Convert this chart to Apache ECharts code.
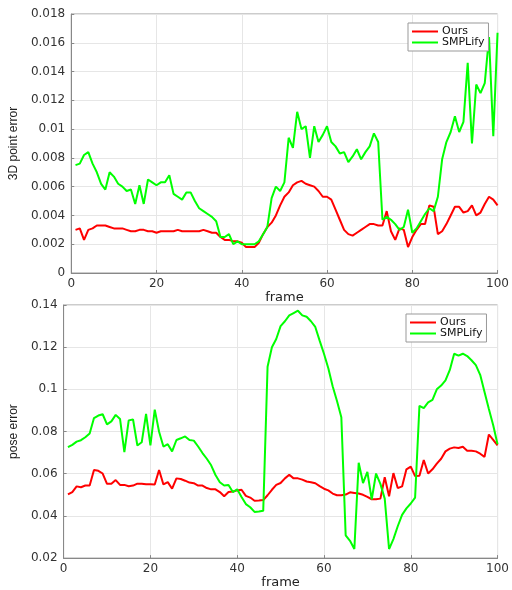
<!DOCTYPE html>
<html>
<head>
<meta charset="utf-8">
<script src="https://cdn.jsdelivr.net/npm/echarts@6/dist/echarts.min.js"></script>
<style>
  html, body { margin: 0; padding: 0; background: #fff; }
  #chart { width: 512px; height: 590px; }
</style>
</head>
<body>
<div id="chart"></div>
<script>
// frame index 1..100
const frames = []
for (let i = 1; i <= 100; i++) frames.push(i)

// 3D point error
const pointOurs = [
  0.0030, 0.0031, 0.0023, 0.0030, 0.0031, 0.0033, 0.0033, 0.0033, 0.0032, 0.0031,
  0.0031, 0.0031, 0.0030, 0.0029, 0.0029, 0.0030, 0.0030, 0.0029, 0.0029, 0.0028,
  0.0029, 0.0029, 0.0029, 0.0029, 0.0030, 0.0029, 0.0029, 0.0029, 0.0029, 0.0029,
  0.0030, 0.0029, 0.0028, 0.0028, 0.0025, 0.0023, 0.0023, 0.0022, 0.0022, 0.0021,
  0.0018, 0.0018, 0.0018, 0.0021, 0.0027, 0.0032, 0.0035, 0.0040, 0.0047, 0.0053,
  0.0056, 0.0061, 0.0063, 0.0064, 0.0062, 0.0061, 0.0060, 0.0057, 0.0053, 0.0053,
  0.0051, 0.0044, 0.0037, 0.0030, 0.0027, 0.0026, 0.0028, 0.0030, 0.0032, 0.0034,
  0.0034, 0.0033, 0.0033, 0.0043, 0.0029, 0.0023, 0.0031, 0.0030, 0.0018, 0.0025,
  0.0030, 0.0034, 0.0034, 0.0047, 0.0046, 0.0027, 0.0029, 0.0034, 0.0040, 0.0046,
  0.0046, 0.0042, 0.0043, 0.0047, 0.0040, 0.0042, 0.0048, 0.0053, 0.0051, 0.0047
]
const pointSmplify = [
  0.0075, 0.0076, 0.0082, 0.0084, 0.0076, 0.0070, 0.0062, 0.0058, 0.0070, 0.0067,
  0.0062, 0.0060, 0.0057, 0.0058, 0.0048, 0.0061, 0.0048, 0.0065, 0.0063, 0.0061,
  0.0063, 0.0063, 0.0068, 0.0055, 0.0053, 0.0051, 0.0056, 0.0056, 0.0050, 0.0045,
  0.0043, 0.0041, 0.0039, 0.0036, 0.0025, 0.0025, 0.0027, 0.0020, 0.0022, 0.0020,
  0.0020, 0.0020, 0.0020, 0.0022, 0.0027, 0.0032, 0.0052, 0.0060, 0.0057, 0.0063,
  0.0094, 0.0087, 0.0112, 0.0100, 0.0102, 0.0080, 0.0102, 0.0091, 0.0096, 0.0102,
  0.0091, 0.0088, 0.0083, 0.0084, 0.0077, 0.0081, 0.0086, 0.0079, 0.0084, 0.0088,
  0.0097, 0.0091, 0.0037, 0.0039, 0.0037, 0.0034, 0.0030, 0.0032, 0.0044, 0.0028,
  0.0031, 0.0036, 0.0041, 0.0045, 0.0043, 0.0053, 0.0079, 0.0091, 0.0098, 0.0109,
  0.0098, 0.0105, 0.0146, 0.0090, 0.0131, 0.0125, 0.0132, 0.0164, 0.0095, 0.0167
]

// pose error
const poseOurs = [
  0.0502, 0.0513, 0.0540, 0.0536, 0.0544, 0.0544, 0.0618, 0.0614, 0.0601, 0.0552,
  0.0552, 0.0570, 0.0547, 0.0547, 0.0541, 0.0544, 0.0553, 0.0553, 0.0550, 0.0550,
  0.0549, 0.0618, 0.0549, 0.0560, 0.0529, 0.0578, 0.0575, 0.0567, 0.0558, 0.0555,
  0.0544, 0.0544, 0.0532, 0.0526, 0.0526, 0.0513, 0.0493, 0.0513, 0.0516, 0.0521,
  0.0524, 0.0495, 0.0487, 0.0472, 0.0473, 0.0475, 0.0498, 0.0524, 0.0547, 0.0556,
  0.0578, 0.0595, 0.0578, 0.0578, 0.0572, 0.0563, 0.0560, 0.0555, 0.0541, 0.0529,
  0.0521, 0.0506, 0.0498, 0.0498, 0.0501, 0.0512, 0.0509, 0.0506, 0.0500, 0.0490,
  0.0479, 0.0479, 0.0482, 0.0583, 0.0493, 0.0603, 0.0532, 0.0540, 0.0621, 0.0634,
  0.0589, 0.0590, 0.0665, 0.0601, 0.0621, 0.0648, 0.0671, 0.0706, 0.0719, 0.0725,
  0.0722, 0.0728, 0.0709, 0.0709, 0.0706, 0.0695, 0.0680, 0.0786, 0.0760, 0.0734
]
const poseSmplify = [
  0.0726, 0.0737, 0.0752, 0.0759, 0.0773, 0.0791, 0.0864, 0.0876, 0.0882, 0.0834,
  0.0848, 0.0879, 0.0860, 0.0702, 0.0853, 0.0857, 0.0734, 0.0749, 0.0884, 0.0734,
  0.0904, 0.0799, 0.0729, 0.0740, 0.0706, 0.0760, 0.0768, 0.0777, 0.0760, 0.0757,
  0.0729, 0.0698, 0.0671, 0.0640, 0.0594, 0.0560, 0.0544, 0.0547, 0.0513, 0.0526,
  0.0490, 0.0456, 0.0441, 0.0419, 0.0421, 0.0424, 0.1107, 0.1200, 0.1239, 0.1300,
  0.1323, 0.1351, 0.1362, 0.1373, 0.1351, 0.1344, 0.1323, 0.1296, 0.1231, 0.1169,
  0.1100, 0.1015, 0.0945, 0.0868, 0.0308, 0.0282, 0.0243, 0.0652, 0.0556, 0.0609,
  0.0478, 0.0601, 0.0552, 0.0482, 0.0243, 0.0290, 0.0351, 0.0405, 0.0436, 0.0459,
  0.0487, 0.0922, 0.0911, 0.0938, 0.0950, 0.1000, 0.1018, 0.1043, 0.1092, 0.1169,
  0.1160, 0.1169, 0.1158, 0.1138, 0.1115, 0.1069, 0.0987, 0.0907, 0.0830, 0.0740
]

const seriesNames = ['Ours', 'SMPLify']
const xTicks = { min: 0, max: 100, interval: 20 }

const pair = arr => frames.map((f, i) => [f, arr[i]])

const tickFont = { color: '#333', fontFamily: 'DejaVu Sans', fontSize: 12 }

const makeX = (gridIndex, gap) => ({
  type: 'value',
  gridIndex,
  min: xTicks.min,
  max: xTicks.max,
  interval: xTicks.interval,
  name: 'frame',
  nameLocation: 'middle',
  nameGap: gap,
  nameTextStyle: { color: '#222', fontFamily: 'DejaVu Sans', fontSize: 13 },
  axisLine: { lineStyle: { color: '#888' } },
  axisTick: { inside: true, length: 3, lineStyle: { color: '#888' } },
  axisLabel: { ...tickFont, margin: 5 },
  splitLine: { lineStyle: { color: '#e6e6e6' } }
})

const makeY = (gridIndex, name, min, max, interval, gap) => ({
  type: 'value',
  gridIndex,
  min,
  max,
  interval,
  name,
  nameLocation: 'middle',
  nameGap: gap,
  nameTextStyle: { color: '#222', fontFamily: 'Liberation Sans', fontSize: 12 },
  axisLine: { show: true, lineStyle: { color: '#888' } },
  axisTick: { show: true, inside: true, length: 3, lineStyle: { color: '#888' } },
  axisLabel: { ...tickFont, margin: 6 },
  splitLine: { lineStyle: { color: '#e6e6e6' } }
})

const line = (name, data, color, idx) => ({
  name,
  type: 'line',
  xAxisIndex: idx,
  yAxisIndex: idx,
  data,
  symbol: 'none',
  lineStyle: { color, width: 2 },
  itemStyle: { color },
  animation: false
})

const makeLegend = (left, top) => ({
  data: seriesNames,
  orient: 'vertical',
  left,
  top,
  icon: 'rect',
  itemWidth: 26,
  itemHeight: 2,
  itemGap: 0,
  padding: [3, 4, 3, 4],
  backgroundColor: '#fff',
  borderColor: '#999',
  borderWidth: 1,
  borderRadius: 0,
  textStyle: { color: '#111', fontFamily: 'DejaVu Sans', fontSize: 11, lineHeight: 11, padding: [0, 0, 0, -1] }
})

const chart = echarts.init(document.getElementById('chart'))
chart.setOption({
  backgroundColor: '#fff',
  animation: false,
  grid: [
    { left: 68, right: 12, top: 14, height: 259, show: true, borderColor: '#999', borderWidth: 1 },
    { left: 58, right: 12, top: 305, height: 259, show: true, borderColor: '#999', borderWidth: 1 }
  ],
  legend: [makeLegend(408, 23), makeLegend(406, 314)],
  xAxis: [makeX(0, 14), makeX(1, 17)],
  yAxis: [
    makeY(0, '3D point error', 0, 0.018, 0.002, 43),
    makeY(1, 'pose error', 0.02, 0.14, 0.02, 35)
  ],
  series: [
    line('Ours', pair(pointOurs), '#ff0000', 0),
    line('SMPLify', pair(pointSmplify), '#00ff00', 0),
    line('Ours', pair(poseOurs), '#ff0000', 1),
    line('SMPLify', pair(poseSmplify), '#00ff00', 1)
  ]
})
</script>
</body>
</html>
